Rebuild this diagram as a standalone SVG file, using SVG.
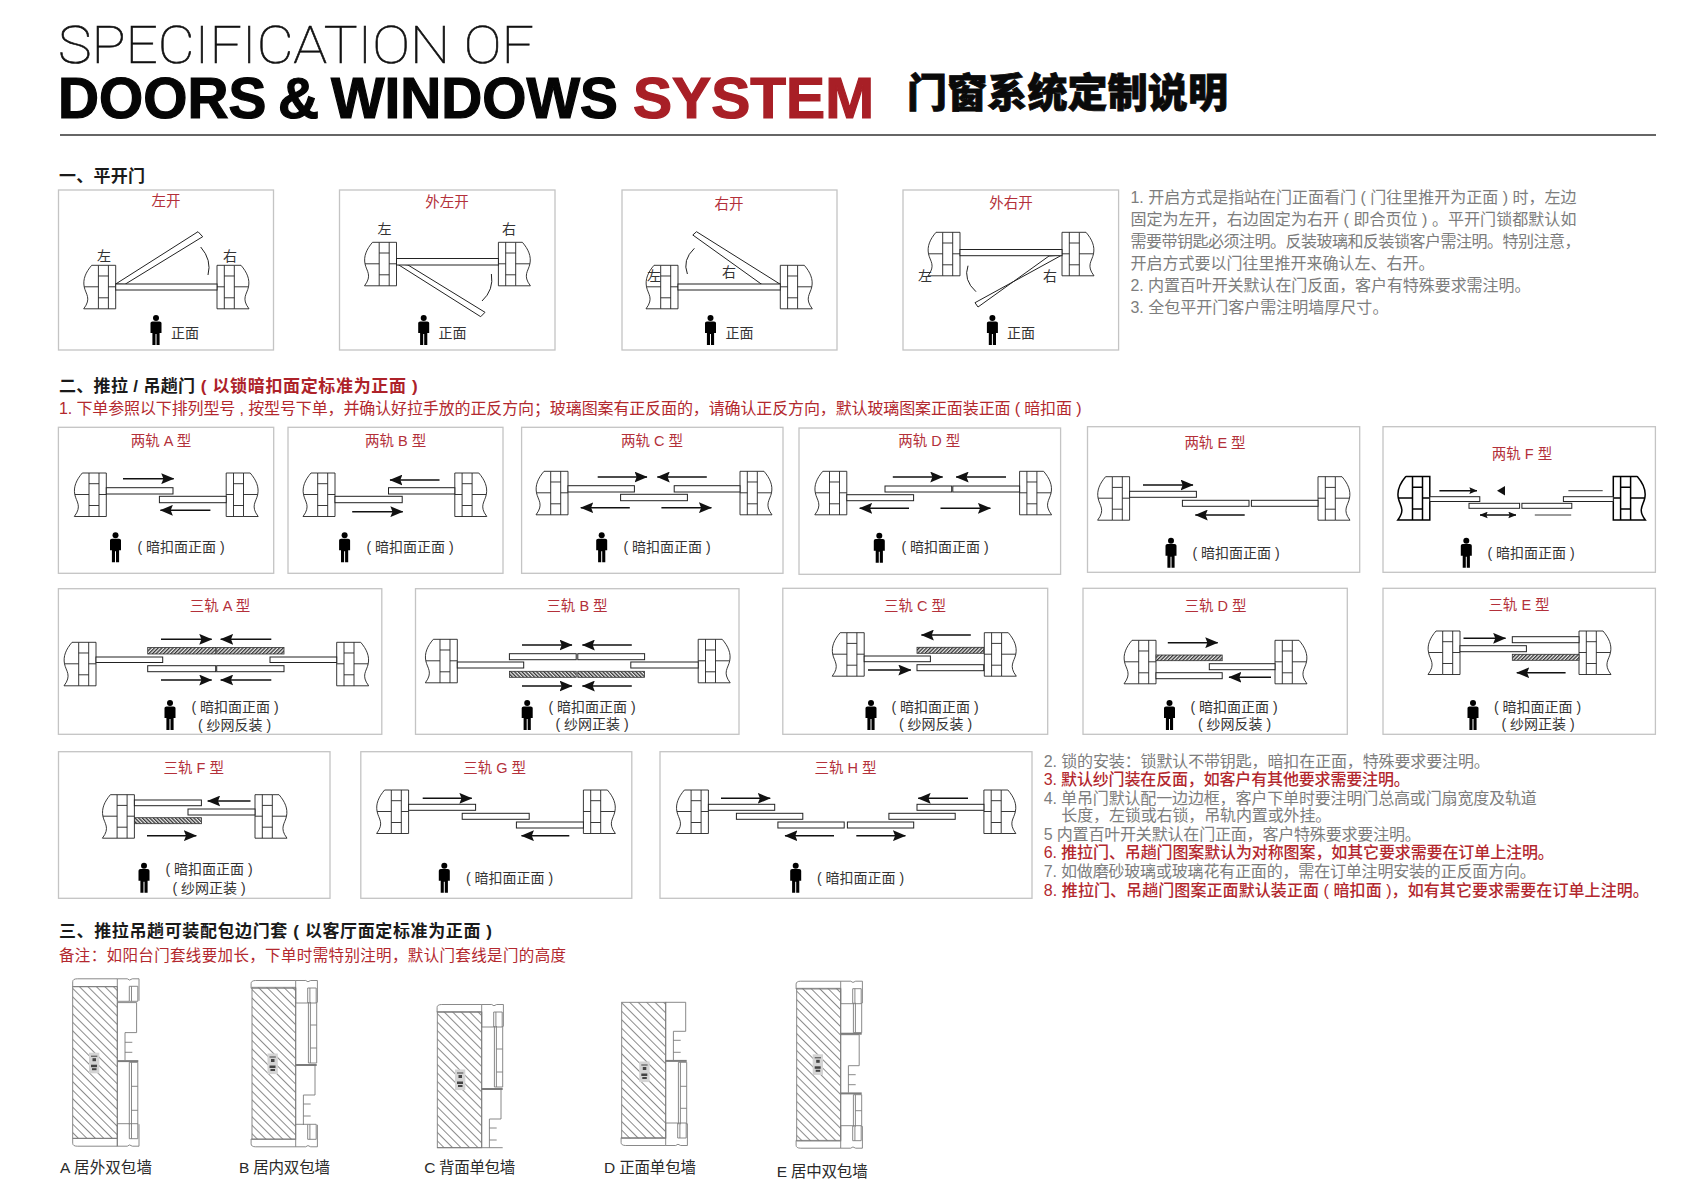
<svg xmlns="http://www.w3.org/2000/svg" width="1684" height="1196" viewBox="0 0 1684 1196">
<style>
text{font-family:"Liberation Sans","Noto Sans CJK SC",sans-serif;dominant-baseline:central}
.box{fill:#fff;stroke:#c4c4c4;stroke-width:1.3}
.t{font-size:14.5px;fill:#b3303a;text-anchor:middle}
.l{font-size:14px;fill:#333;text-anchor:middle}
.h{font-size:17px;font-weight:700;fill:#1a1a1a}
.hr{font-size:17px;font-weight:700;fill:#ad2229}
.g{font-size:16px;fill:#7d7d7d}
.r{font-size:16px;fill:#b3282e}
.w{stroke:#222;stroke-width:.9;fill:none}
.wh{stroke:#000;stroke-width:1.5;fill:none}
.lf{fill:#fff;stroke:#222;stroke-width:1}
.ha{fill:url(#ha);stroke:#333;stroke-width:.8}
.hb{fill:url(#hb);stroke:#333;stroke-width:.8}
.arc{fill:none;stroke:#222;stroke-width:1}
.a{stroke:#111;stroke-width:1.4;fill:none;marker-end:url(#ar)}
.as{stroke:#111;stroke-width:1.4;fill:none;marker-end:url(#as)}
.sec{fill:none;stroke:#7c7c7c;stroke-width:.9}
.hat{fill:url(#hs);stroke:#7c7c7c;stroke-width:.9}
.tag{fill:#d4d4d4;stroke:none}
.tagd{fill:#444}
.cap{font-size:15.5px;fill:#2a2a2a}
</style>
<defs>
<marker id="ar" markerUnits="userSpaceOnUse" viewBox="0 0 12 10" refX="11.5" refY="5" markerWidth="13" markerHeight="11" orient="auto"><path d="M0 0L12 5L0 10L2 5Z" fill="#111"/></marker>
<marker id="as" markerUnits="userSpaceOnUse" viewBox="0 0 12 10" refX="11.5" refY="5" markerWidth="8" markerHeight="7" orient="auto-start-reverse"><path d="M0 0L12 5L0 10L2 5Z" fill="#111"/></marker>
<pattern id="ha" width="2.6" height="2.6" patternUnits="userSpaceOnUse" patternTransform="rotate(45)"><rect width="2.6" height="2.6" fill="#eee"/><rect width="1.3" height="2.6" fill="#333"/></pattern>
<pattern id="hb" width="2.6" height="2.6" patternUnits="userSpaceOnUse" patternTransform="rotate(-45)"><rect width="2.6" height="2.6" fill="#eee"/><rect width="1.3" height="2.6" fill="#333"/></pattern>
<pattern id="hs" width="6" height="6" patternUnits="userSpaceOnUse" patternTransform="rotate(-45)"><rect width="6" height="6" fill="#fff"/><rect width=".8" height="6" fill="#6e6e6e"/></pattern>
<g id="wl"><path d="M-17.3 0H0V43.5H-17.3ZM-7.3 0V43.5M-24 0H-17.3M-31.5 21.5H-17.3M-7.3 21.5H0M-17.3 10.7H-7.3M-17.3 32.5H-7.3M-24 0C-30 7-33 14-31.5 21.5C-30 29-24 33-32 43.5H-17.3"/></g>
<g id="wr"><use href="#wl" transform="scale(-1,1)"/></g>
<g id="p"><circle cx="0" cy="3" r="3" fill="#000"/><path d="M-5.5 8Q-5.5 6.4-3.5 6.4H3.5Q5.5 6.4 5.5 8V18H3.6V30H.5V19H-.5V30H-3.6V18H-5.5Z" fill="#000"/></g>
<g id="hd"><path d="M-44.6 8.3V3.5Q-44.6.5-40 .5H0V8.3ZM0 .5H10Q12 3 15 .5H21.7V22.5M0 8.3V23H12M12 8H20.5V23H12V8M14.2 8V23"/></g>
<g id="tg"><rect class="tag" x="0" y="0" width="10.3" height="20.6"/><rect class="tagd" x="2" y="3" width="6.3" height="1"/><rect class="tagd" x="3.5" y="5.5" width="3.5" height="3"/><rect class="tagd" x="2" y="12" width="6" height="2.5"/><rect class="tagd" x="3" y="15.5" width="4.5" height="2"/></g>
</defs>
<rect width="1684" height="1196" fill="#fff"/>

<g id="title">
<text x="58" y="63" style="dominant-baseline:alphabetic;font-family:Roboto,Inter,sans-serif;font-weight:100;font-size:52px" fill="#111" stroke="#111" stroke-width=".6" textLength="476" lengthAdjust="spacingAndGlyphs">SPECIFICATION OF</text>
<text x="58" y="118" style="dominant-baseline:alphabetic;font-weight:700;font-size:57px;word-spacing:-4px" fill="#050505" stroke="#050505" stroke-width="1.2" textLength="560" lengthAdjust="spacingAndGlyphs">DOORS &amp; WINDOWS</text>
<text x="633" y="118" style="dominant-baseline:alphabetic;font-weight:700;font-size:57px" fill="#a81f26" stroke="#a81f26" stroke-width="1.2" textLength="241" lengthAdjust="spacingAndGlyphs">SYSTEM</text>
<text x="907" y="93" style="font-weight:900;font-size:40px" fill="#0a0a0a" stroke="#0a0a0a" stroke-width=".8" textLength="321">门窗系统定制说明</text>
<rect x="60" y="134" width="1596" height="2" fill="#666"/>
</g>

<g id="sec1"><text class="h" x="59" y="176" textLength="86">一、平开门</text></g>

<g id="s1-left">
<rect class="box" x="58.5" y="190" width="215" height="160"/>
<text class="t" x="166" y="201">左开</text>
<use class="w" href="#wl" x="115.7" y="265.3"/><use class="w" href="#wr" x="217" y="265.3"/>
<polygon class="lf" points="115.7,284 198,231.7 202.7,236.7 125,284.3"/>
<rect class="lf" x="115.7" y="284" width="101.3" height="6"/>
<path class="arc" d="M200.7 247Q212 260 208 275"/>
<text class="l" x="104" y="256">左</text><text class="l" x="230" y="256">右</text>
<use href="#p" x="156" y="315"/><text class="l" x="185" y="332.5">正面</text>
</g>
<g id="s1-outleft">
<rect class="box" x="339.5" y="190" width="215.5" height="160"/>
<text class="t" x="447" y="202">外左开</text>
<use class="w" href="#wl" x="396.5" y="242.3"/><use class="w" href="#wr" x="498.4" y="242.3"/>
<polygon class="lf" points="396.5,263.5 408,265 485,312.3 480.7,316.7"/>
<rect class="lf" x="396.5" y="258.5" width="101.9" height="6.5"/>
<path class="arc" d="M491.4 274Q494 290 482 301"/>
<text class="l" x="384.5" y="229">左</text><text class="l" x="509" y="229">右</text>
<use href="#p" x="423.7" y="315"/><text class="l" x="452.5" y="332.5">正面</text>
</g>
<g id="s1-right">
<rect class="box" x="622" y="190" width="215" height="160"/>
<text class="t" x="729" y="204">右开</text>
<use class="w" href="#wl" x="678" y="265.3"/><use class="w" href="#wr" x="780.3" y="265.3"/>
<polygon class="lf" points="780.3,284.3 762.6,285 692.8,235 696.5,231.7"/>
<rect class="lf" x="678" y="284" width="102.3" height="6"/>
<path class="arc" d="M694.4 248.3Q682 260 687.4 274"/>
<text class="l" x="654" y="276">左</text><text class="l" x="729" y="272">右</text>
<use href="#p" x="710.5" y="315"/><text class="l" x="739.5" y="332.5">正面</text>
</g>
<g id="s1-outright">
<rect class="box" x="903" y="190" width="215.6" height="160"/>
<text class="t" x="1011" y="203">外右开</text>
<use class="w" href="#wl" x="960" y="232.3"/><use class="w" href="#wr" x="1062" y="232.3"/>
<polygon class="lf" points="1062,255 1049,256 978,307 975,302.7"/>
<rect class="lf" x="960" y="249.5" width="102" height="6.2"/>
<path class="arc" d="M968 265.7Q963 280 976 291.7"/>
<text class="l" x="925" y="275.7">左</text><text class="l" x="1050" y="275.7">右</text>
<use href="#p" x="992.4" y="315"/><text class="l" x="1021" y="332.5">正面</text>
</g>
<g id="notes1">
<text class="g" x="1130.4" y="197.7" textLength="446">1. 开启方式是指站在门正面看门 ( 门往里推开为正面 ) 时，左边</text>
<text class="g" x="1130.4" y="219.7" textLength="446">固定为左开，右边固定为右开 ( 即合页位 ) 。平开门锁都默认如</text>
<text class="g" x="1130.4" y="241.7" textLength="450">需要带钥匙必须注明。反装玻璃和反装锁客户需注明。特别注意，</text>
<text class="g" x="1130.4" y="263.7" textLength="304">开启方式要以门往里推开来确认左、右开。</text>
<text class="g" x="1130.4" y="285" textLength="400">2. 内置百叶开关默认在门反面，客户有特殊要求需注明。</text>
<text class="g" x="1130.4" y="307" textLength="258">3. 全包平开门客户需注明墙厚尺寸。</text>
</g>

<g id="sec2">
<text class="h" x="59" y="386.5" textLength="136">二、推拉 / 吊趟门</text>
<text class="hr" x="200.7" y="386.5" textLength="217">( 以锁暗扣面定标准为正面 )</text>
<text class="r" x="59" y="408" textLength="1022.5">1. 下单参照以下排列型号 , 按型号下单，并确认好拉手放的正反方向；玻璃图案有正反面的，请确认正反方向，默认玻璃图案正面装正面 ( 暗扣面 )</text>
</g>

<g id="two-a">
<rect class="box" x="58.4" y="427.3" width="215.3" height="146"/>
<text class="t" x="161" y="440.7">两轨 A 型</text>
<use class="w" href="#wl" x="106.3" y="473"/><use class="w" href="#wr" x="226.2" y="473"/>
<rect class="lf" x="106.3" y="487.7" width="66.7" height="6.3"/><rect class="lf" x="159.4" y="496.3" width="66.8" height="6.4"/>
<use href="#p" x="115.5" y="532.3"/><text class="l" x="181" y="547.3">( 暗扣面正面 )</text>
</g>
<g id="two-b">
<rect class="box" x="288" y="427.3" width="215" height="146"/>
<text class="t" x="395.6" y="440.7">两轨 B 型</text>
<use class="w" href="#wl" x="335" y="473"/><use class="w" href="#wr" x="454.8" y="473"/>
<rect class="lf" x="335" y="496.3" width="67.2" height="6.4"/><rect class="lf" x="388.5" y="487.7" width="66.3" height="6.3"/>
<use href="#p" x="344.6" y="532.3"/><text class="l" x="410" y="547.3">( 暗扣面正面 )</text>
</g>
<g id="two-c">
<rect class="box" x="521.6" y="427.3" width="261.4" height="146"/>
<text class="t" x="652" y="440.7">两轨 C 型</text>
<use class="w" href="#wl" x="568" y="471.3"/><use class="w" href="#wr" x="740" y="471.3"/>
<rect class="lf" x="568" y="485.7" width="66.4" height="6.3"/><rect class="lf" x="674.2" y="485.7" width="65.8" height="6.3"/><rect class="lf" x="620.6" y="494.3" width="66.8" height="6.4"/>
<use href="#p" x="601.7" y="532.3"/><text class="l" x="667" y="547.3">( 暗扣面正面 )</text>
</g>
<g id="two-d">
<rect class="box" x="799" y="428" width="261.6" height="146.3"/>
<text class="t" x="929.3" y="440.7">两轨 D 型</text>
<use class="w" href="#wl" x="846.8" y="471.3"/><use class="w" href="#wr" x="1019.6" y="471.3"/>
<rect class="lf" x="846.8" y="494.7" width="66.8" height="6"/><rect class="lf" x="885" y="486" width="66.7" height="6"/><rect class="lf" x="952.8" y="486" width="66.8" height="6"/>
<use href="#p" x="879.3" y="532.7"/><text class="l" x="945" y="547">( 暗扣面正面 )</text>
</g>
<g id="two-e">
<rect class="box" x="1087.5" y="426.7" width="272.2" height="145.6"/>
<text class="t" x="1215" y="442.7">两轨 E 型</text>
<use class="w" href="#wl" x="1129.6" y="476.7"/><use class="w" href="#wr" x="1318" y="476.7"/>
<rect class="lf" x="1129.6" y="491.3" width="66.8" height="6"/><rect class="lf" x="1182.4" y="500.3" width="66.6" height="6"/><rect class="lf" x="1251.4" y="500.3" width="66.6" height="6"/>
<use href="#p" x="1171" y="537.7"/><text class="l" x="1236" y="553.3">( 暗扣面正面 )</text>
</g>
<g id="two-f">
<rect class="box" x="1383" y="426.7" width="272.4" height="145.6"/>
<text class="t" x="1522" y="454.3">两轨 F 型</text>
<use class="wh" href="#wl" x="1429.8" y="476.5"/><use class="wh" href="#wr" x="1613.3" y="476.5"/>
<rect class="lf" x="1429.8" y="496.7" width="50" height="4.8"/><rect class="lf" x="1563.4" y="496.7" width="49.9" height="4.8"/>
<rect class="lf" x="1469" y="503.3" width="50.6" height="5"/><rect class="lf" x="1521.9" y="503.3" width="49.9" height="5"/>
<use href="#p" x="1466.3" y="537.7"/><text class="l" x="1531" y="553.3">( 暗扣面正面 )</text>
</g>

<g id="three-a">
<rect class="box" x="58.4" y="588.7" width="323.4" height="145.6"/>
<text class="t" x="220" y="606">三轨 A 型</text>
<use class="w" href="#wl" x="96" y="642.3"/><use class="w" href="#wr" x="336.7" y="642.3"/>
<rect class="lf" x="96" y="657" width="66.7" height="5.5"/><rect class="lf" x="270" y="657" width="66.7" height="5.5"/>
<rect class="ha" x="147.7" y="647.5" width="68" height="6.5"/><rect class="ha" x="216.7" y="647.5" width="67.3" height="6.5"/>
<rect class="lf" x="147.7" y="665.7" width="68" height="6"/><rect class="lf" x="216.7" y="665.7" width="67.3" height="6"/>
<use href="#p" x="170" y="700"/><text class="l" x="235" y="706.7">( 暗扣面正面 )</text><text class="l" x="234.5" y="724.5">( 纱网反装 )</text>
</g>
<g id="three-b">
<rect class="box" x="415.5" y="588.7" width="323.5" height="145.6"/>
<text class="t" x="577" y="606">三轨 B 型</text>
<use class="w" href="#wl" x="457.3" y="639.3"/><use class="w" href="#wr" x="698.2" y="639.3"/>
<rect class="lf" x="457.3" y="662" width="66.4" height="6"/><rect class="lf" x="630.8" y="662" width="67.4" height="6"/>
<rect class="lf" x="509.4" y="653.7" width="66.8" height="6"/><rect class="lf" x="577.8" y="653.7" width="66.8" height="6"/>
<rect class="hb" x="509.4" y="671.3" width="66.8" height="6"/><rect class="hb" x="577.8" y="671.3" width="66.8" height="6"/>
<use href="#p" x="527.2" y="700"/><text class="l" x="592" y="706.7">( 暗扣面正面 )</text><text class="l" x="592" y="724">( 纱网正装 )</text>
</g>
<g id="three-c">
<rect class="box" x="782.8" y="588.3" width="264.9" height="146"/>
<text class="t" x="915" y="605.7">三轨 C 型</text>
<use class="w" href="#wl" x="864.2" y="632.7"/><use class="w" href="#wr" x="984.3" y="632.7"/>
<rect class="ha" x="917" y="647.3" width="66.7" height="6"/><rect class="lf" x="864.2" y="656" width="66.2" height="5.7"/><rect class="lf" x="917" y="664.7" width="66.7" height="6"/>
<use href="#p" x="871" y="700"/><text class="l" x="935" y="706.7">( 暗扣面正面 )</text><text class="l" x="935.5" y="724">( 纱网反装 )</text>
</g>
<g id="three-d">
<rect class="box" x="1083" y="588.3" width="264.3" height="146"/>
<text class="t" x="1215.5" y="605.7">三轨 D 型</text>
<use class="w" href="#wl" x="1156" y="640.3"/><use class="w" href="#wr" x="1275" y="640.3"/>
<rect class="ha" x="1156" y="655" width="66.2" height="5.7"/><rect class="lf" x="1209.3" y="663.7" width="65.7" height="6"/><rect class="lf" x="1156" y="672.7" width="66.2" height="6"/>
<use href="#p" x="1169.5" y="700"/><text class="l" x="1234" y="706.7">( 暗扣面正面 )</text><text class="l" x="1234.5" y="724">( 纱网反装 )</text>
</g>
<g id="three-e">
<rect class="box" x="1383" y="588.3" width="272.4" height="146"/>
<text class="t" x="1519" y="605">三轨 E 型</text>
<use class="w" href="#wl" x="1460" y="631"/><use class="w" href="#wr" x="1579" y="631"/>
<rect class="lf" x="1512.3" y="636.7" width="66.7" height="6"/><rect class="lf" x="1460" y="645.7" width="66.4" height="6"/><rect class="ha" x="1512.3" y="654.3" width="66.7" height="6"/>
<use href="#p" x="1473" y="700"/><text class="l" x="1537.5" y="706.7">( 暗扣面正面 )</text><text class="l" x="1538" y="724">( 纱网正装 )</text>
</g>

<g id="three-f">
<rect class="box" x="58.5" y="751.7" width="271.5" height="146.6"/>
<text class="t" x="193.7" y="767.7">三轨 F 型</text>
<use class="w" href="#wl" x="134.4" y="794.7"/><use class="w" href="#wr" x="255" y="794.7"/>
<rect class="lf" x="134.4" y="800" width="67" height="5.7"/><rect class="lf" x="188" y="809" width="67" height="6"/><rect class="hb" x="134.4" y="817.7" width="67" height="6"/>
<use href="#p" x="144" y="862.7"/><text class="l" x="209" y="869.3">( 暗扣面正面 )</text><text class="l" x="209" y="887.7">( 纱网正装 )</text>
</g>
<g id="three-g">
<rect class="box" x="360.8" y="751.7" width="271" height="146.6"/>
<text class="t" x="494.7" y="767.7">三轨 G 型</text>
<use class="w" href="#wl" x="408.6" y="790"/><use class="w" href="#wr" x="583.4" y="790"/>
<rect class="lf" x="408.6" y="804.3" width="67" height="6"/><rect class="lf" x="462.2" y="813.3" width="67" height="6"/><rect class="lf" x="516.4" y="822" width="67" height="6"/>
<use href="#p" x="444.3" y="862.7"/><text class="l" x="509.5" y="877.7">( 暗扣面正面 )</text>
</g>
<g id="three-h">
<rect class="box" x="660" y="751.7" width="372" height="146.6"/>
<text class="t" x="845.5" y="767.7">三轨 H 型</text>
<use class="w" href="#wl" x="708.4" y="790"/><use class="w" href="#wr" x="983.9" y="790"/>
<rect class="lf" x="708.4" y="804.3" width="66.3" height="6"/><rect class="lf" x="736.4" y="813.3" width="66.4" height="6"/><rect class="lf" x="777.9" y="822" width="66.3" height="6"/>
<rect class="lf" x="847.4" y="822" width="66.3" height="6"/><rect class="lf" x="888.9" y="813.3" width="66.3" height="6"/><rect class="lf" x="917" y="804.3" width="66.9" height="6"/>
<use href="#p" x="795.7" y="862.7"/><text class="l" x="860.5" y="877.7">( 暗扣面正面 )</text>
</g>

<g id="notes2">
<text class="g" x="1043.8" y="761.7" textLength="446">2. 锁的安装：锁默认不带钥匙，暗扣在正面，特殊要求要注明。</text>
<text class="r" x="1043.8" y="779.7" style="font-weight:500" textLength="366">3. 默认纱门装在反面，如客户有其他要求需要注明。</text>
<text class="g" x="1043.8" y="798.3" textLength="493">4. 单吊门默认配一边边框，客户下单时要注明门总高或门扇宽度及轨道</text>
<text class="g" x="1061.3" y="815.7" textLength="270">长度，左锁或右锁，吊轨内置或外挂。</text>
<text class="g" x="1043.8" y="834" textLength="377">5 内置百叶开关默认在门正面，客户特殊要求要注明。</text>
<text class="r" x="1043.8" y="852.3" style="font-weight:500" textLength="510">6. 推拉门、吊趟门图案默认为对称图案，如其它要求需要在订单上注明。</text>
<text class="g" x="1043.8" y="871" textLength="492">7. 如做磨砂玻璃或玻璃花有正面的，需在订单注明安装的正反面方向。</text>
<text class="r" x="1043.8" y="890" style="font-weight:500" textLength="605">8. 推拉门、吊趟门图案正面默认装正面 ( 暗扣面 )，如有其它要求需要在订单上注明。</text>
</g>

<g id="sec3">
<text class="h" x="59" y="931.7" textLength="433">三、推拉吊趟可装配包边门套 ( 以客厅面定标准为正面 )</text>
<text class="r" x="59" y="955.7" textLength="507" style="font-size:15.5px">备注：如阳台门套线要加长，下单时需特别注明，默认门套线是门的高度</text>
</g>

<g id="frame-a">
<rect class="hat" x="72.7" y="986.7" width="44.6" height="151.6"/>
<g class="sec" transform="translate(117.3,978.3)">
<use href="#hd"/><use href="#hd" transform="translate(0,168.4) scale(1,-1)"/>
<path d="M0 24.3H19.3V54.3H7.7V82M7.7 64H15M7.7 74H15M0 24.3V168"/>
<path d="M12 84V146M14.2 84V146M20.5 84V146M12 84H20.5M14.2 108H20.5M14.2 132H20.5"/>
<path d="M0 82.8H21" stroke-width="2"/>
</g>
<use href="#tg" x="89" y="1052.7"/>
<text class="cap" x="60" y="1167.3" textLength="92">A 居外双包墙</text>
</g>
<g id="frame-b">
<rect class="hat" x="252" y="987.3" width="43.7" height="152"/>
<g class="sec" transform="translate(295.7,980)">
<use href="#hd"/><use href="#hd" transform="translate(0,167.3) scale(1,-1)"/>
<path d="M0 8V145M12.7 22V83M14.7 22V83M21 22V83M12.7 83H21M14.7 45H21M14.7 68H21"/>
<path d="M0 85H21" stroke-width="2"/>
<path d="M0 85H19.3V115H7.7V145M7.7 124H15M7.7 136H15"/>
</g>
<use href="#tg" x="267.5" y="1053.5"/>
<text class="cap" x="239" y="1167.3" textLength="91">B 居内双包墙</text>
</g>
<g id="frame-c">
<rect class="hat" x="437.3" y="1011.7" width="44.4" height="136"/>
<g class="sec" transform="translate(481.7,1004)">
<use href="#hd"/>
<path d="M0 8V143.7M12.7 22V83M14.7 22V83M21 22V83M12.7 83H21M14.7 45H21M14.7 68H21"/>
<path d="M0 85H21" stroke-width="2"/>
<path d="M0 85H19.3V115H7.7V143.7M7.7 124H15M7.7 136H15M-44.4 143.7H21"/>
</g>
<use href="#tg" x="455" y="1069.5"/>
<text class="cap" x="424.3" y="1167.3" textLength="91">C 背面单包墙</text>
</g>
<g id="frame-d">
<rect class="hat" x="621.7" y="1002.3" width="44" height="136"/>
<g class="sec" transform="translate(665.7,1002.3)">
<use href="#hd" transform="translate(0,143.7) scale(1,-1)"/>
<path d="M0 0H20V29H7.7V58M7.7 38H15M7.7 50H15M0 0V136"/>
<path d="M0 58.6H21" stroke-width="2"/>
<path d="M12.7 60V122M14.7 60V122M21 60V122M12.7 60H21M14.7 84H21M14.7 106H21"/>
</g>
<use href="#tg" x="639.3" y="1061.5"/>
<text class="cap" x="604" y="1167.3" textLength="92">D 正面单包墙</text>
</g>
<g id="frame-e">
<rect class="hat" x="796.7" y="988.3" width="44" height="152.7"/>
<g class="sec" transform="translate(840.7,980.7)">
<use href="#hd"/><use href="#hd" transform="translate(0,168) scale(1,-1)"/>
<path d="M0 8V160M12.7 22V52M14.7 22V52M21 22V52M12.7 52H21"/>
<path d="M0 53H21" stroke-width="2"/>
<path d="M0 54H18.5V85H7.7V112M7.7 94H15M7.7 104H15"/>
<path d="M0 112.7H21" stroke-width="2"/>
<path d="M12.7 114V146M14.7 114V146M21 114V146M12.7 114H21M14.7 130H21"/>
</g>
<use href="#tg" x="812.7" y="1054.3"/>
<text class="cap" x="776.7" y="1171" textLength="91">E 居中双包墙</text>
</g>

<g id="connectors">
<line class="a" x1="123" y1="478.7" x2="173.7" y2="478.7"/><line class="a" x1="210.4" y1="510.3" x2="160.4" y2="510.3"/>
<line class="a" x1="439.5" y1="480" x2="390" y2="480"/><line class="a" x1="352.2" y1="511.7" x2="402.8" y2="511.7"/>
<line class="a" x1="597.7" y1="477" x2="647" y2="477"/><line class="a" x1="706.8" y1="477" x2="657.3" y2="477"/><line class="a" x1="629.8" y1="507.7" x2="580.8" y2="507.7"/><line class="a" x1="661.4" y1="507.7" x2="711.4" y2="507.7"/>
<line class="a" x1="892.8" y1="477" x2="942.7" y2="477"/><line class="a" x1="1006" y1="477" x2="956.2" y2="477"/><line class="a" x1="909" y1="508.3" x2="859.7" y2="508.3"/><line class="a" x1="940.5" y1="508.3" x2="990.4" y2="508.3"/>
<line class="a" x1="1143" y1="485" x2="1193" y2="485"/><line class="a" x1="1244.7" y1="515" x2="1195.3" y2="515"/>
<line class="as" x1="1439.4" y1="490.7" x2="1477" y2="490.7"/><path fill="#111" d="M1497 490.7L1505 486V495.4Z"/><line class="w" x1="1568.4" y1="490.7" x2="1602.7" y2="490.7"/>
<line class="as" x1="1480" y1="515" x2="1516" y2="515" style="marker-start:url(#as)"/><line class="w" x1="1534.8" y1="515" x2="1571.2" y2="515"/>
<line class="a" x1="161" y1="639.3" x2="211.7" y2="639.3"/><line class="a" x1="271.3" y1="639.3" x2="220.7" y2="639.3"/><line class="a" x1="161" y1="680" x2="211.7" y2="680"/><line class="a" x1="271.3" y1="680" x2="220.7" y2="680"/>
<line class="a" x1="522" y1="645" x2="572" y2="645"/><line class="a" x1="631.8" y1="645" x2="582.4" y2="645"/><line class="a" x1="522" y1="686" x2="572" y2="686"/><line class="a" x1="631.8" y1="686" x2="582.4" y2="686"/>
<line class="a" x1="970.8" y1="635" x2="921.4" y2="635"/><line class="a" x1="868" y1="670" x2="910.8" y2="670"/>
<line class="a" x1="1167.8" y1="642.7" x2="1217.7" y2="642.7"/><line class="a" x1="1271" y1="677.3" x2="1229" y2="677.3"/>
<line class="a" x1="1463.5" y1="638.3" x2="1505.6" y2="638.3"/><line class="a" x1="1565.6" y1="672.7" x2="1516.8" y2="672.7"/>
<line class="a" x1="250.5" y1="801" x2="207.7" y2="801"/><line class="a" x1="147" y1="835.7" x2="196.3" y2="835.7"/>
<line class="a" x1="422.7" y1="798.3" x2="471.8" y2="798.3"/><line class="a" x1="569.3" y1="835.7" x2="521.5" y2="835.7"/>
<line class="a" x1="721" y1="798.3" x2="770.2" y2="798.3"/><line class="a" x1="968" y1="798.3" x2="918.2" y2="798.3"/><line class="a" x1="834" y1="835.7" x2="785" y2="835.7"/><line class="a" x1="856.3" y1="835.7" x2="905.4" y2="835.7"/>
</g>
</svg>
